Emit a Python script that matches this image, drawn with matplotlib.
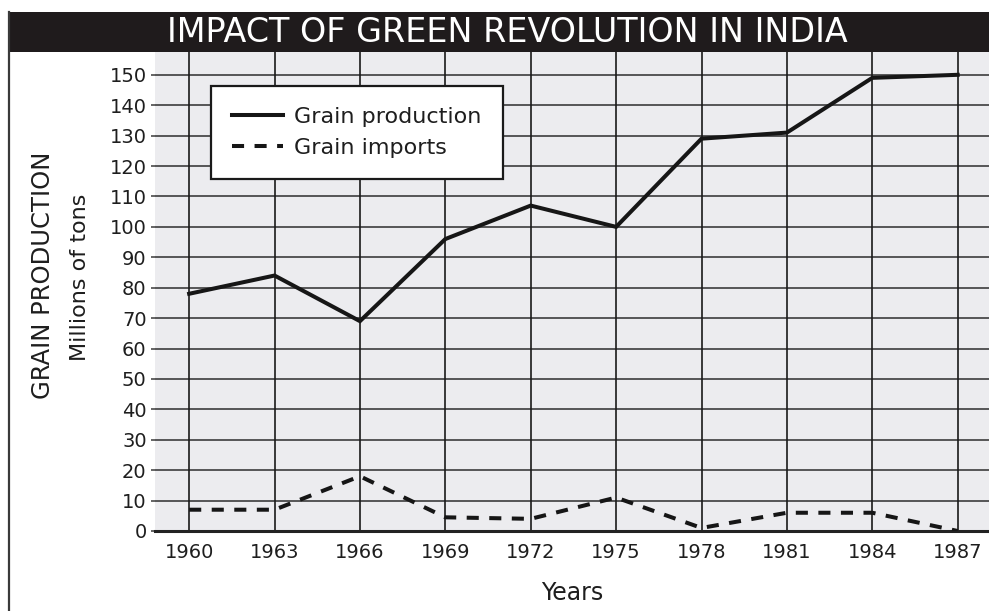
import matplotlib.pyplot as plt
from matplotlib.patches import Rectangle
from matplotlib.lines import Line2D

# Values
years = [1960, 1963, 1966, 1969, 1972, 1975, 1978, 1981, 1984, 1987]
production = [78, 84, 69, 96, 107, 100, 129, 131, 149, 150]
imports = [7, 7, 18, 4.5, 4, 11, 1, 6, 6, 0]
y_ticks = list(range(0, 151, 10))

W, H = 989, 611
fig = plt.figure(figsize=(W / 100, H / 100), dpi=100)
fig.patch.set_facecolor("white")

# plot area (pixel box -> figure fraction)
left, right, top, bottom = 155, 989, 52, 531
ax = fig.add_axes([left / W, (H - bottom) / H, (right - left) / W, (bottom - top) / H])
ax.set_facecolor("#ececef")

ax.set_xlim(1958.8, 1988.1)
ax.set_ylim(0, 157.5)

# grid
for y in y_ticks[1:]:
    ax.axhline(y, color="#4a4a4a", lw=1.3, zorder=1)
for x in years:
    ax.axvline(x, color="#1a1a1a", lw=1.2, zorder=1)

ax.plot(years, production, color="#161616", lw=2.9, label="Grain production",
        solid_joinstyle="miter", zorder=3)
ax.plot(years, imports, color="#161616", lw=2.9, dashes=(3, 2.6),
        label="Grain imports", zorder=3)

for side in ["top", "right", "left"]:
    ax.spines[side].set_visible(False)
ax.spines["bottom"].set_color("#222222")
ax.spines["bottom"].set_linewidth(2.2)
ax.spines["bottom"].set_zorder(2)

ax.set_xticks(years)
ax.set_yticks(y_ticks)
ax.tick_params(axis="x", length=0, pad=9, labelsize=14, labelcolor="#1e1e1e")
ax.tick_params(axis="y", length=3, width=1.2, color="#4a4a4a", pad=3,
               labelsize=14, labelcolor="#1e1e1e")
ax.set_xlabel("Years", fontsize=17, color="#1e1e1e", labelpad=13)

leg = ax.legend(loc="upper left", bbox_to_anchor=(211 / W, (H - 86) / H),
                bbox_transform=fig.transFigure, fontsize=16, frameon=True,
                fancybox=False, framealpha=1, handlelength=2.3,
                handletextpad=0.5, borderpad=0.95, labelspacing=0.5,
                borderaxespad=0)
leg.get_frame().set_edgecolor("#1a1a1a")
leg.get_frame().set_linewidth(1.6)
leg.set_zorder(5)
for t in leg.get_texts():
    t.set_color("#1e1e1e")

# y axis titles
fig.text(43 / W, 1 - 275 / H, "GRAIN PRODUCTION", rotation=90, fontsize=17.5,
         color="#1e1e1e", ha="center", va="center")
fig.text(80 / W, 1 - 277 / H, "Millions of tons", rotation=90, fontsize=16,
         color="#1e1e1e", ha="center", va="center")

# black title bar and left border
fig.patches.append(Rectangle((8 / W, 1 - 52 / H), (W - 8) / W, 40 / H,
                             transform=fig.transFigure, facecolor="#1f1b1c",
                             edgecolor="none", zorder=0))
fig.lines.append(Line2D([9 / W, 9 / W], [0, 1 - 12 / H], transform=fig.transFigure,
                        color="#3a3a3a", lw=1.6))
fig.text(507 / W, 1 - 32 / H, "IMPACT OF GREEN REVOLUTION IN INDIA", fontsize=24,
         color="white", ha="center", va="center")

fig.savefig("out.png", dpi=100)
